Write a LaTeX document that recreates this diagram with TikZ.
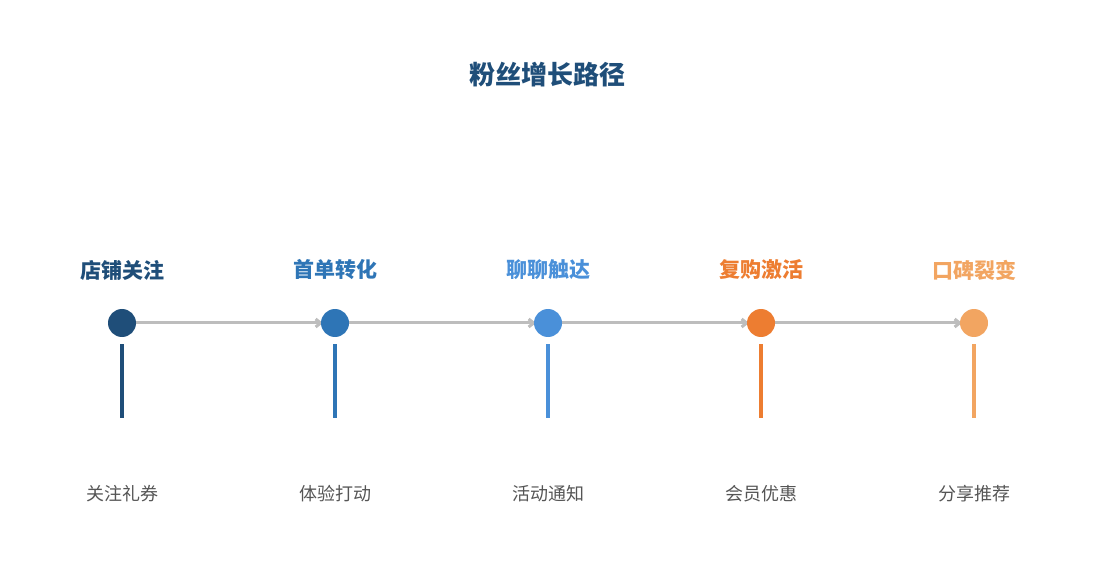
\documentclass[tikz,border=0pt]{standalone}
\usepackage{fontspec}
\setmainfont{Noto Sans CJK SC}
\usetikzlibrary{arrows.meta}
\definecolor{c1}{HTML}{1F4E79}
\definecolor{c2}{HTML}{2E75B6}
\definecolor{c3}{HTML}{4A90D9}
\definecolor{c4}{HTML}{ED7D31}
\definecolor{c5}{HTML}{F2A561}
\definecolor{ln}{HTML}{BDBDBD}
\definecolor{tx}{HTML}{555555}
\begin{document}
\begin{tikzpicture}[x=1pt,y=-1pt,
 dot/.style={circle,fill=#1,minimum size=28pt,inner sep=0pt},
 head/.style={text=#1,font=\fontsize{21}{24}\selectfont\bfseries},
 sub/.style={text=tx,font=\fontsize{18}{20}\selectfont},
 stem/.style={draw=#1,line width=3.5pt},
 conn/.style={draw=ln,line width=3pt,-{Straight Barb[length=5pt,width=8pt]}}]
\useasboundingbox (0,0) rectangle (1095,585);
\node[text=c1,font=\fontsize{26}{30}\selectfont\bfseries] (title) at (547,75) {粉丝增长路径};
\foreach \i/\x/\c/\h/\s in {1/122/c1/店铺关注/关注礼券,2/335/c2/首单转化/体验打动,3/548/c3/聊聊触达/活动通知,4/761/c4/复购激活/会员优惠,5/974/c5/口碑裂变/分享推荐}{
 \node[head=\c] (h\i) at (\x,270) {\h};
 \coordinate (t\i) at (\x,344);
 \coordinate (b\i) at (\x,418);
 \draw[stem=\c] (t\i) -- (b\i);
 \node[sub] (s\i) at (\x,494) {\s};
}
\foreach \i/\x/\c in {1/122/c1,2/335/c2,3/548/c3,4/761/c4,5/974/c5}{
 \coordinate (p\i) at (\x,323);
}
\foreach \a/\b in {1/2,2/3,3/4,4/5}{
 \draw[conn] (p\a) -- ([xshift=-12pt]p\b);
}
\foreach \i/\c in {1/c1,2/c2,3/c3,4/c4,5/c5}{
 \node[dot=\c] (d\i) at (p\i) {};
}
\end{tikzpicture}
\end{document}
